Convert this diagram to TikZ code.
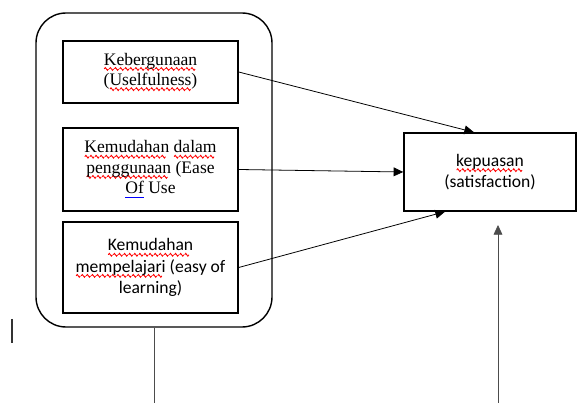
\documentclass[tikz,border=0pt]{standalone}
\usepackage{fontspec}
\setmainfont{Liberation Serif}
\newfontfamily\timesfont{Liberation Serif}
\newfontfamily\calibri{Carlito}
\usetikzlibrary{positioning, arrows.meta}

% red wave under words the spell checker marks, blue line for grammar
\newcommand\wavebit{\begin{pgfpicture}%
  \pgfsetlinewidth{0.5pt}%
  \pgfpathmoveto{\pgfpoint{0pt}{0pt}}%
  \pgfpathsine{\pgfpoint{0.6pt}{0.8pt}}\pgfpathcosine{\pgfpoint{0.6pt}{-0.8pt}}%
  \pgfpathsine{\pgfpoint{0.6pt}{-0.8pt}}\pgfpathcosine{\pgfpoint{0.6pt}{0.8pt}}%
  \pgfusepath{stroke}\end{pgfpicture}}
\newcommand\spell[1]{\setbox0\hbox{#1}%
  \rlap{\raisebox{-3.2pt}{\color{red}\hbox to \wd0{\leaders\hbox{\wavebit}\hfill}}}%
  \box0\relax}
\newcommand\gram[1]{\setbox0\hbox{#1}%
  \rlap{\textcolor{blue}{\rule[-2.8pt]{\wd0}{0.6pt}}}\box0\relax}

\begin{document}
\begin{tikzpicture}[
    >=Stealth,
    box/.style={rectangle, draw, line width=0.8pt, inner sep=2pt,
                minimum width=35mm, align=center,
                font=\timesfont\fontsize{10}{11.5}\selectfont},
    group/.style={rectangle, draw, line width=0.8pt, rounded corners=6mm,
                  minimum width=47.2mm, minimum height=62.8mm},
    result/.style={box, font=\calibri\fontsize{10}{12}\selectfont,
                   minimum width=34.4mm, minimum height=15.6mm},
    arrow/.style={-{Triangle[length=5.5pt, width=5pt]}, line width=0.45pt}
]
  \useasboundingbox (0, 0) rectangle (115.6mm, -80.6mm);

  \node[group] (group) at (30.8mm, -34mm) {};

  % Three factors
  \node[box, minimum height=12.4mm] (useful) at (30.1mm, -14.4mm)
    {\spell{Kebergunaan}\\(\spell{Uselfulness})};
  \node[box, minimum height=16.6mm] (ease) at (30.1mm, -33.9mm)
    {\spell{Kemudahan} \spell{dalam}\\\spell{penggunaan} (Ease\\\gram{Of} Use};
  \node[box, font=\calibri\fontsize{10}{12}\selectfont,
        minimum height=18.2mm] (learn) at (30.1mm, -53.5mm)
    {\spell{Kemudahan}\\\spell{mempelajari} (easy of\\learning)};

  % Outcome
  \node[result] (sat) at (98mm, -34.4mm)
    {\spell{kepuasan}\\(satisfaction)};

  % Edges into the outcome
  \draw[arrow] (useful.east) -- ([xshift=-3.2mm]sat.north);
  \draw[arrow] (ease.east) -- (sat.west);
  \draw[arrow] (learn.east) -- ([xshift=-9mm]sat.south);

  % Lines leaving the picture at the bottom
  \coordinate (below) at (99.6mm, -80.6mm);
  \coordinate (groupend) at (group.south |- below);
  \draw[arrow, black!70] (below) -- (99.6mm, -45mm);
  \draw[line width=0.45pt, black!70] (group.south) -- (groupend);

  % text cursor
  \draw[line width=0.6pt, black!80] (2.4mm, -63.8mm) -- (2.4mm, -68.6mm);
\end{tikzpicture}
\end{document}
